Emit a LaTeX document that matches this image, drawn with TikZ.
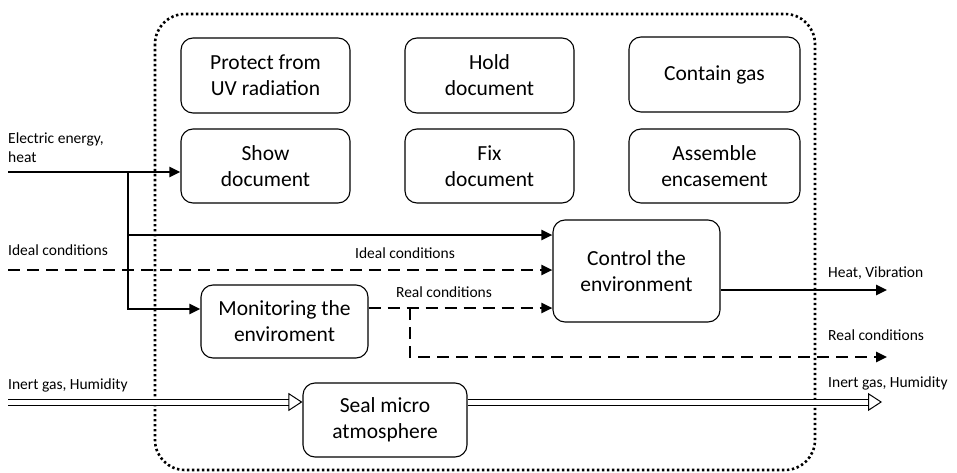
\documentclass[tikz,border=0pt]{standalone}
\usepackage{fontspec}
\setmainfont{Carlito}
\usetikzlibrary{arrows.meta}

\begin{document}
\begin{tikzpicture}[x=1pt,y=-1pt,
    func/.style={draw,line width=1.1pt,rounded corners=12pt,align=center,
      font=\fontsize{21.5}{26}\selectfont,inner sep=0pt},
    lbl/.style={inner sep=0pt,align=left,font=\fontsize{15.5}{19}\selectfont},
    flow/.style={line width=2.4pt,-{Triangle[length=11pt,width=10pt]}},
    cond/.style={flow,dash pattern=on 12pt off 7pt},
    gas/.style={line width=1pt,double,double distance=5pt,
      -{Triangle[open,length=14pt,width=18pt,line width=1pt]}}]
    \useasboundingbox (0,0) rectangle (957,473);
    \draw[line width=2.6pt,dash pattern=on 2.4pt off 2.6pt,rounded corners=30pt]
      (155,14) rectangle (815,470);

    \node[func,minimum width=169,minimum height=75] (protect) at (265.5,75.5) {Protect from\\UV radiation};
    \node[func,minimum width=169,minimum height=75] (hold) at (489.5,75.5) {Hold\\document};
    \node[func,minimum width=171,minimum height=75] (contain) at (714.5,74.5) {Contain gas};
    \node[func,minimum width=169,minimum height=74] (show) at (265.5,166) {Show\\document};
    \node[func,minimum width=169,minimum height=74] (fix) at (489.5,166) {Fix\\document};
    \node[func,minimum width=171,minimum height=74] (assemble) at (714.5,166) {Assemble\\encasement};
    \node[func,minimum width=167,minimum height=102] (control) at (636.5,271) {Control the\\environment};
    \node[func,minimum width=167,minimum height=73] (monitor) at (284.5,321.5) {Monitoring the\\enviroment};
    \node[func,minimum width=164,minimum height=74] (seal) at (385,420) {Seal micro\\atmosphere};

    % inputs
    \coordinate (elecin) at (8,172);
    \coordinate (split) at (128,172);
    \coordinate (idealin) at (8,270);
    \coordinate (gasin) at (8,402);
    \draw[flow] (elecin) -- (elecin -| show.west);
    \draw[flow] (split) |- (control.west |- 0,235);
    \draw[flow] (split) |- (monitor.west |- 0,309);
    \draw[cond] (idealin) -- (control.west |- idealin);
    \draw[cond] (monitor.east |- 0,308) -- (control.west |- 0,308);
    \draw[gas] (gasin) -- (gasin -| seal.west);

    % outputs
    \coordinate (heatout) at (887,290);
    \coordinate (realtap) at (410,308);
    \coordinate (realout) at (887,357);
    \coordinate (gasout) at (882,402);
    \draw[flow] (control.east |- heatout) -- (heatout);
    \draw[cond] (realtap) |- (realout);
    \draw[gas] (seal.east |- gasout) -- (gasout);

    \node[lbl,anchor=west] (elecl) at (8,148) {Electric energy,\\heat};
    \node[lbl,anchor=west] (ideall) at (8,250) {Ideal conditions};
    \node[lbl] (idealm) at (405,253) {Ideal conditions};
    \node[lbl] (realm) at (444,292) {Real conditions};
    \node[lbl,anchor=west] (heatl) at (828,273) {Heat, Vibration};
    \node[lbl,anchor=west] (reall) at (828,335) {Real conditions};
    \node[lbl,anchor=west] (gasinl) at (8,385) {Inert gas, Humidity};
    \node[lbl,anchor=west] (gasoutl) at (828,383) {Inert gas, Humidity};
  \end{tikzpicture}
\end{document}
